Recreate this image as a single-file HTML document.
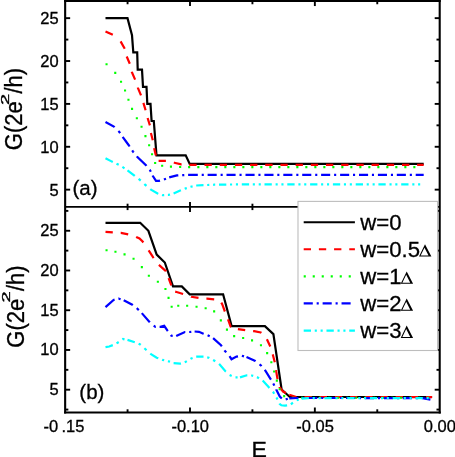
<!DOCTYPE html>
<html><head><meta charset="utf-8"><title>chart</title>
<style>html,body{margin:0;padding:0;background:#fff;}body{width:455px;height:457px;overflow:hidden;}</style>
</head><body>
<svg width="455" height="457" viewBox="0 0 455 457" style="display:block;will-change:transform" font-family="Liberation Sans, sans-serif" fill="#000">
<path d="M105.5,18.1 L127.5,18.1 L132.0,35.3 L133.3,52.4 L137.2,52.4 L137.7,69.6 L142.0,69.6 L143.0,86.8 L146.5,86.8 L147.3,103.9 L150.5,103.9 L151.6,121.0 L153.8,121.0 L156.5,155.3 L185.7,155.3 L189.7,163.9 L423.7,163.9" fill="none" stroke="#000" stroke-width="2.2" stroke-linejoin="miter" stroke-linecap="butt"/>
<path d="M105.5,31.4 L112.8,34.8 M120.6,41.4 L124.6,48.5 L124.7,48.7 M126.7,56.5 L129.8,63.8 M131.8,71.7 L131.9,72.3 L135.1,79.6 M137.8,87.5 L138.0,88.1 L141.0,95.4 M143.4,102.9 L145.6,110.2 L145.6,110.2 M147.6,118.0 L149.9,125.3 L149.9,125.3 M150.9,133.0 L152.8,140.3 M154.2,148.2 L154.2,148.3 L155.8,155.3 L155.8,155.6 M158.6,160.9 L165.9,160.9 M173.8,162.6 L174.3,162.7 L181.2,164.4 L181.6,164.4 M189.3,164.8 L196.6,164.8 M204.5,164.8 L211.8,164.8 M219.7,164.8 L227.0,164.8 M234.9,164.8 L242.2,164.8 M250.1,164.8 L257.4,164.8 M265.2,164.8 L272.6,164.8 M280.4,164.8 L287.7,164.8 M295.6,164.8 L302.9,164.8 M310.8,164.8 L318.1,164.8 M326.0,164.8 L333.3,164.8 M341.2,164.8 L348.5,164.8 M356.4,164.8 L363.7,164.8 M371.6,164.8 L378.9,164.8 M386.8,164.8 L394.1,164.8 M402.0,164.8 L409.3,164.8 M417.1,164.8 L423.7,164.8" fill="none" stroke="#ff0000" stroke-width="2.2" stroke-linejoin="miter" stroke-linecap="butt"/>
<path d="M105.5,64.2h2.1 M114.2,72.9h2.1 M120.0,81.8h2.1 M124.0,90.5h2.1 M127.4,99.7h2.1 M131.0,108.9h2.1 M135.8,118.2h2.1 M140.5,126.8h2.1 M144.4,136.1h2.1 M148.1,145.3h2.1 M151.0,154.2h2.1 M154.1,163.0h2.1 M161.1,165.7h2.1 M169.9,166.6h2.1 M179.1,167.0h2.1 M188.1,167.1h2.1 M197.3,167.1h2.1 M206.3,167.1h2.1 M215.3,167.1h2.1 M224.3,167.1h2.1 M233.3,167.1h2.1 M242.3,167.1h2.1 M251.3,167.1h2.1 M260.3,167.1h2.1 M269.3,167.1h2.1 M278.3,167.1h2.1 M287.3,167.1h2.1 M296.3,167.1h2.1 M305.3,167.1h2.1 M314.3,167.1h2.1 M323.3,167.1h2.1 M332.3,167.1h2.1 M341.3,167.1h2.1 M350.3,167.1h2.1 M359.3,167.1h2.1 M368.3,167.1h2.1 M377.3,167.1h2.1 M386.3,167.1h2.1 M395.3,167.1h2.1 M404.3,167.1h2.1 M413.3,167.1h2.1" fill="none" stroke="#00ff00" stroke-width="2.1"/>
<path d="M105.5,122.0 L114.3,126.8 L114.6,127.1 M118.4,131.0 L119.3,131.9 L120.1,133.1 M122.7,136.9 L123.0,137.4 L128.6,145.0 L129.6,146.5 M132.2,150.4 L133.0,151.6 L133.7,152.5 M136.8,156.3 L137.4,157.1 L146.2,165.5 L146.4,165.8 M149.6,169.7 L150.1,170.3 L150.8,171.8 M152.6,175.6 L152.7,175.8 L156.0,180.9 L158.9,180.9 L160.0,180.6 M163.9,179.5 L166.0,178.7 M169.2,177.4 L176.9,175.4 L178.3,175.3 M182.2,175.2 L182.4,175.2 L184.3,175.1 M188.1,174.8 L188.7,174.8 L197.8,174.8 M201.7,174.8 L203.8,174.8 M207.6,174.8 L216.7,174.8 M220.6,174.8 L222.7,174.8 M226.5,174.8 L235.6,174.8 M239.5,174.8 L241.6,174.8 M245.5,174.8 L254.6,174.8 M258.4,174.8 L260.5,174.8 M264.4,174.8 L273.5,174.8 M277.3,174.8 L279.4,174.8 M283.3,174.8 L292.4,174.8 M296.3,174.8 L298.4,174.8 M302.2,174.8 L311.3,174.8 M315.2,174.8 L317.3,174.8 M321.1,174.8 L330.2,174.8 M334.1,174.8 L336.2,174.8 M340.1,174.8 L349.2,174.8 M353.0,174.8 L355.1,174.8 M359.0,174.8 L368.1,174.8 M371.9,174.8 L374.0,174.8 M377.9,174.8 L387.0,174.8 M390.9,174.8 L393.0,174.8 M396.8,174.8 L405.9,174.8 M409.8,174.8 L411.9,174.8 M415.7,174.8 L423.7,174.8" fill="none" stroke="#0000ff" stroke-width="2.2" stroke-linejoin="miter" stroke-linecap="butt"/>
<path d="M105.5,158.2 L111.0,161.1 L112.8,162.0 M116.5,163.7 L118.7,164.8 M122.4,166.9 L124.5,168.3 M127.5,170.3 L134.7,175.8 L134.8,175.9 M138.6,178.8 L139.6,179.6 L140.7,180.6 M144.4,184.0 L145.0,184.6 L146.5,185.9 M150.3,189.1 L151.0,189.7 L157.6,193.4 L158.3,193.7 M162.1,195.0 L162.6,195.2 L164.2,195.1 M167.9,194.9 L168.6,194.9 L170.0,194.5 M173.6,193.4 L180.2,190.5 L180.9,190.2 M184.7,188.8 L185.7,188.4 L186.8,188.1 M190.5,186.9 L190.8,186.8 L192.6,186.4 M196.2,185.5 L203.5,185.2 M207.2,185.0 L209.3,184.9 M213.1,184.8 L214.3,184.7 L215.2,184.7 M219.0,184.6 L226.3,184.6 M230.0,184.5 L232.1,184.5 M235.9,184.4 L238.0,184.4 M241.8,184.4 L249.1,184.4 M252.8,184.4 L254.9,184.4 M258.7,184.4 L260.8,184.4 M264.5,184.4 L271.8,184.4 M275.6,184.4 L277.7,184.4 M281.4,184.4 L283.5,184.4 M287.3,184.4 L294.6,184.4 M298.4,184.4 L300.5,184.4 M304.2,184.4 L306.3,184.4 M310.1,184.4 L317.4,184.4 M321.1,184.4 L323.2,184.4 M327.0,184.4 L329.1,184.4 M332.9,184.4 L340.2,184.4 M343.9,184.4 L346.0,184.4 M349.8,184.4 L351.9,184.4 M355.7,184.4 L363.0,184.4 M366.7,184.4 L368.8,184.4 M372.6,184.4 L374.7,184.4 M378.4,184.4 L385.7,184.4 M389.5,184.4 L391.6,184.4 M395.3,184.4 L397.4,184.4 M401.2,184.4 L408.5,184.4 M412.3,184.4 L414.4,184.4 M418.1,184.4 L420.2,184.4" fill="none" stroke="#00ffff" stroke-width="2.2" stroke-linejoin="miter" stroke-linecap="butt"/>
<path d="M105.5,222.8 L140.2,222.8 L148.4,230.8 L156.7,254.6 L164.8,262.5 L173.0,286.4 L181.8,286.4 L189.7,294.3 L223.1,294.3 L231.6,326.1 L264.9,326.1 L273.4,334.1 L281.6,389.5 L289.8,397.0 L432.1,397.0" fill="none" stroke="#000" stroke-width="2.2" stroke-linejoin="miter" stroke-linecap="butt"/>
<path d="M105.5,231.9 L112.8,232.4 M120.7,232.8 L120.9,232.8 L128.2,234.3 M136.1,236.9 L136.3,237.0 L139.5,238.4 L142.6,241.5 L143.3,242.5 M148.6,250.4 L148.8,250.7 L153.2,257.3 L153.7,258.0 M158.9,264.9 L165.9,271.1 L166.0,271.4 M168.6,278.1 L171.3,285.4 M175.2,291.7 L175.8,291.8 L183.1,294.0 L183.1,294.0 M191.0,296.7 L191.2,296.8 L198.5,297.8 M206.4,298.6 L206.9,298.6 L214.2,299.3 L214.2,299.3 M221.3,302.6 L222.2,304.2 L224.9,311.5 M228.0,319.4 L228.2,319.9 L230.6,326.7 L231.1,327.1 M237.9,329.2 L245.2,330.1 M253.1,331.1 L254.1,331.2 L260.8,332.5 L261.4,332.9 M266.9,339.2 L270.3,346.5 L270.3,346.5 M272.7,354.4 L272.9,355.0 L274.8,362.3 M276.1,370.2 L276.3,371.9 L277.5,379.1 L277.5,379.2 M279.6,387.1 L279.6,387.2 L283.1,391.6 L285.9,393.0 M289.3,394.8 L296.3,397.0 L296.6,397.0 M304.5,397.0 L311.8,397.0 M319.7,397.0 L327.0,397.0 M334.9,397.1 L342.2,397.1 M350.1,397.1 L357.4,397.1 M365.2,397.1 L372.6,397.1 M380.4,397.1 L387.7,397.1 M395.6,397.1 L402.9,397.2 M410.8,397.2 L418.1,397.2 M426.0,397.2 L432.1,397.2" fill="none" stroke="#ff0000" stroke-width="2.2" stroke-linejoin="miter" stroke-linecap="butt"/>
<path d="M105.5,250.2h2.1 M114.4,251.8h2.1 M123.5,254.4h2.1 M132.5,258.8h2.1 M140.8,267.1h2.1 M147.8,275.7h2.1 M156.8,281.8h2.1 M164.4,289.0h2.1 M167.5,297.9h2.1 M170.6,306.8h2.1 M177.2,305.8h2.1 M186.1,305.8h2.1 M195.5,306.7h2.1 M204.6,308.3h2.1 M213.1,311.4h2.1 M219.8,320.4h2.1 M225.9,329.6h2.1 M233.1,336.1h2.1 M242.1,338.0h2.1 M251.0,340.4h2.1 M259.9,345.3h2.1 M266.1,353.1h2.1 M270.3,362.2h2.1 M273.1,371.5h2.1 M275.8,380.6h2.1 M278.6,389.2h2.1 M283.1,396.1h2.1 M292.1,397.8h2.1 M301.1,397.8h2.1 M310.1,397.8h2.1 M319.1,397.8h2.1 M328.1,397.8h2.1 M337.1,397.8h2.1 M346.1,397.8h2.1 M355.1,397.8h2.1 M364.1,397.8h2.1 M373.1,397.8h2.1 M382.1,397.8h2.1 M391.1,397.8h2.1 M400.1,397.8h2.1 M409.1,397.8h2.1 M418.1,397.8h2.1 M427.1,397.8h2.1" fill="none" stroke="#00ff00" stroke-width="2.1"/>
<path d="M105.5,307.1 L113.6,299.9 L114.6,299.6 M118.5,298.7 L118.7,298.6 L120.6,299.2 M123.7,300.3 L132.3,304.7 L132.8,305.1 M136.7,308.1 L137.4,308.7 L138.8,310.1 M141.8,313.1 L149.5,321.9 L149.8,322.2 M153.7,325.7 L155.4,326.9 L155.8,326.9 M159.6,326.9 L160.4,326.9 L164.2,325.8 L167.5,330.7 L167.8,331.1 M170.8,335.0 L171.4,335.8 L172.7,335.9 M176.2,336.0 L184.9,332.0 L185.3,332.0 M189.2,332.0 L189.3,332.0 L191.3,331.8 M194.6,331.5 L199.0,331.8 L203.4,333.7 L203.7,333.8 M207.6,335.3 L208.7,335.8 L209.7,336.3 M213.1,338.1 L221.0,345.2 L221.8,346.4 M224.5,350.3 L225.0,351.0 L226.2,352.4 M229.5,356.2 L229.8,356.6 L231.5,359.2 L236.5,356.6 L238.0,356.3 M241.9,355.7 L244.0,356.4 M246.5,357.1 L255.3,361.0 L255.6,361.2 M259.5,364.3 L261.0,365.5 L261.5,366.1 M264.7,369.9 L265.2,370.5 L270.8,379.3 L271.0,379.6 M273.2,383.5 L273.8,384.5 L274.3,385.6 M276.2,389.4 L276.2,389.5 L279.8,396.6 L281.8,398.5 M285.7,399.4 L287.8,398.8 M289.3,398.3 L297.2,398.0 L298.4,398.0 M302.3,398.0 L304.4,398.0 M308.2,398.0 L317.3,398.0 M321.2,398.0 L323.3,398.0 M327.1,398.0 L336.2,398.0 M340.1,398.0 L342.2,398.0 M346.1,398.0 L355.2,398.0 M359.0,398.0 L361.1,398.1 M365.0,398.1 L374.1,398.1 M377.9,398.1 L380.0,398.1 M383.9,398.1 L393.0,398.1 M396.9,398.1 L399.0,398.1 M402.8,398.1 L411.9,398.1 M415.8,398.1 L417.9,398.1 M421.7,398.1 L422.5,398.1 L430.4,399.6" fill="none" stroke="#0000ff" stroke-width="2.2" stroke-linejoin="miter" stroke-linecap="butt"/>
<path d="M105.5,347.1 L109.2,346.5 L112.8,345.1 M116.5,343.2 L117.6,342.7 L118.7,342.0 M122.4,339.5 L123.1,339.0 L124.5,339.3 M127.5,339.9 L134.8,342.2 M138.6,343.8 L140.2,344.5 L140.7,344.9 M144.4,348.3 L145.5,349.3 L146.5,350.2 M150.3,353.6 L151.0,354.2 L156.7,357.7 L158.3,358.3 M162.1,359.7 L162.6,359.9 L164.2,360.3 M167.9,361.2 L168.8,361.4 L170.0,361.8 M173.6,363.2 L180.2,363.6 L180.9,363.4 M184.7,362.1 L185.8,361.7 L186.8,361.1 M190.5,358.9 L191.2,358.5 L192.6,358.0 M196.2,356.7 L203.4,356.6 L203.5,356.6 M207.2,357.4 L208.8,357.7 L209.3,358.0 M213.1,360.0 L214.5,360.8 L215.2,361.3 M219.0,364.0 L219.5,364.4 L225.2,371.0 L225.9,371.6 M229.6,375.0 L231.7,376.0 M235.5,377.4 L237.6,377.4 M240.0,377.4 L246.8,375.3 L247.3,375.3 M251.1,375.5 L251.7,375.5 L253.2,375.9 M256.9,377.1 L257.2,377.2 L259.0,378.3 M262.7,380.6 L268.4,386.8 L269.4,387.9 M272.9,391.7 L273.0,391.8 L274.2,393.8 M276.4,397.5 L276.5,397.6 L277.5,399.6 M279.5,403.4 L279.8,404.0 L281.4,405.3 L284.9,405.6 L287.1,405.3 M290.9,404.3 L292.9,402.7 M296.7,400.2 L298.8,399.5 M301.6,398.7 L307.7,398.1 L308.9,398.1 M312.7,398.1 L314.8,398.1 M318.5,398.1 L320.6,398.1 M324.4,398.1 L331.7,398.1 M335.4,398.1 L337.5,398.1 M341.3,398.1 L343.4,398.1 M347.2,398.1 L354.5,398.1 M358.2,398.1 L360.3,398.1 M364.1,398.1 L366.2,398.1 M369.9,398.1 L377.2,398.1 M381.0,398.1 L383.1,398.1 M386.8,398.1 L388.9,398.1 M392.7,398.1 L400.0,398.1 M403.8,398.1 L405.9,398.1 M409.6,398.1 L411.7,398.1 M415.5,398.1 L422.8,398.1 M426.6,398.1 L428.6,398.1" fill="none" stroke="#00ffff" stroke-width="2.2" stroke-linejoin="miter" stroke-linecap="butt"/>
<line x1="65.15" y1="0.00" x2="65.15" y2="413.55" stroke="#000" stroke-width="2.1"/>
<line x1="439.70" y1="0.00" x2="439.70" y2="413.55" stroke="#000" stroke-width="2.1"/>
<line x1="64.10" y1="1.05" x2="440.75" y2="1.05" stroke="#000" stroke-width="2.1"/>
<line x1="65.15" y1="206.90" x2="439.70" y2="206.90" stroke="#000" stroke-width="1.9"/>
<line x1="64.10" y1="412.50" x2="440.75" y2="412.50" stroke="#000" stroke-width="2.1"/>
<line x1="65.15" y1="189.65" x2="70.15" y2="189.65" stroke="#000" stroke-width="1.9"/>
<line x1="434.70" y1="189.65" x2="439.70" y2="189.65" stroke="#000" stroke-width="1.9"/>
<line x1="65.15" y1="389.70" x2="70.15" y2="389.70" stroke="#000" stroke-width="1.9"/>
<line x1="434.70" y1="389.70" x2="439.70" y2="389.70" stroke="#000" stroke-width="1.9"/>
<line x1="65.15" y1="146.78" x2="70.15" y2="146.78" stroke="#000" stroke-width="1.9"/>
<line x1="434.70" y1="146.78" x2="439.70" y2="146.78" stroke="#000" stroke-width="1.9"/>
<line x1="65.15" y1="349.96" x2="70.15" y2="349.96" stroke="#000" stroke-width="1.9"/>
<line x1="434.70" y1="349.96" x2="439.70" y2="349.96" stroke="#000" stroke-width="1.9"/>
<line x1="65.15" y1="103.90" x2="70.15" y2="103.90" stroke="#000" stroke-width="1.9"/>
<line x1="434.70" y1="103.90" x2="439.70" y2="103.90" stroke="#000" stroke-width="1.9"/>
<line x1="65.15" y1="310.23" x2="70.15" y2="310.23" stroke="#000" stroke-width="1.9"/>
<line x1="434.70" y1="310.23" x2="439.70" y2="310.23" stroke="#000" stroke-width="1.9"/>
<line x1="65.15" y1="61.02" x2="70.15" y2="61.02" stroke="#000" stroke-width="1.9"/>
<line x1="434.70" y1="61.02" x2="439.70" y2="61.02" stroke="#000" stroke-width="1.9"/>
<line x1="65.15" y1="270.49" x2="70.15" y2="270.49" stroke="#000" stroke-width="1.9"/>
<line x1="434.70" y1="270.49" x2="439.70" y2="270.49" stroke="#000" stroke-width="1.9"/>
<line x1="65.15" y1="18.15" x2="70.15" y2="18.15" stroke="#000" stroke-width="1.9"/>
<line x1="434.70" y1="18.15" x2="439.70" y2="18.15" stroke="#000" stroke-width="1.9"/>
<line x1="65.15" y1="230.75" x2="70.15" y2="230.75" stroke="#000" stroke-width="1.9"/>
<line x1="434.70" y1="230.75" x2="439.70" y2="230.75" stroke="#000" stroke-width="1.9"/>
<line x1="65.15" y1="168.21" x2="68.35" y2="168.21" stroke="#000" stroke-width="1.9"/>
<line x1="436.50" y1="168.21" x2="439.70" y2="168.21" stroke="#000" stroke-width="1.9"/>
<line x1="65.15" y1="125.34" x2="68.35" y2="125.34" stroke="#000" stroke-width="1.9"/>
<line x1="436.50" y1="125.34" x2="439.70" y2="125.34" stroke="#000" stroke-width="1.9"/>
<line x1="65.15" y1="82.46" x2="68.35" y2="82.46" stroke="#000" stroke-width="1.9"/>
<line x1="436.50" y1="82.46" x2="439.70" y2="82.46" stroke="#000" stroke-width="1.9"/>
<line x1="65.15" y1="39.59" x2="68.35" y2="39.59" stroke="#000" stroke-width="1.9"/>
<line x1="436.50" y1="39.59" x2="439.70" y2="39.59" stroke="#000" stroke-width="1.9"/>
<line x1="65.15" y1="409.57" x2="68.35" y2="409.57" stroke="#000" stroke-width="1.9"/>
<line x1="436.50" y1="409.57" x2="439.70" y2="409.57" stroke="#000" stroke-width="1.9"/>
<line x1="65.15" y1="369.83" x2="68.35" y2="369.83" stroke="#000" stroke-width="1.9"/>
<line x1="436.50" y1="369.83" x2="439.70" y2="369.83" stroke="#000" stroke-width="1.9"/>
<line x1="65.15" y1="330.09" x2="68.35" y2="330.09" stroke="#000" stroke-width="1.9"/>
<line x1="436.50" y1="330.09" x2="439.70" y2="330.09" stroke="#000" stroke-width="1.9"/>
<line x1="65.15" y1="290.36" x2="68.35" y2="290.36" stroke="#000" stroke-width="1.9"/>
<line x1="436.50" y1="290.36" x2="439.70" y2="290.36" stroke="#000" stroke-width="1.9"/>
<line x1="65.15" y1="250.62" x2="68.35" y2="250.62" stroke="#000" stroke-width="1.9"/>
<line x1="436.50" y1="250.62" x2="439.70" y2="250.62" stroke="#000" stroke-width="1.9"/>
<line x1="65.15" y1="210.88" x2="68.35" y2="210.88" stroke="#000" stroke-width="1.9"/>
<line x1="436.50" y1="210.88" x2="439.70" y2="210.88" stroke="#000" stroke-width="1.9"/>
<line x1="190.00" y1="1.05" x2="190.00" y2="6.05" stroke="#000" stroke-width="1.9"/>
<line x1="190.00" y1="201.90" x2="190.00" y2="211.90" stroke="#000" stroke-width="1.9"/>
<line x1="190.00" y1="407.50" x2="190.00" y2="412.50" stroke="#000" stroke-width="1.9"/>
<line x1="314.85" y1="1.05" x2="314.85" y2="6.05" stroke="#000" stroke-width="1.9"/>
<line x1="314.85" y1="201.90" x2="314.85" y2="211.90" stroke="#000" stroke-width="1.9"/>
<line x1="314.85" y1="407.50" x2="314.85" y2="412.50" stroke="#000" stroke-width="1.9"/>
<line x1="127.57" y1="1.05" x2="127.57" y2="4.25" stroke="#000" stroke-width="1.9"/>
<line x1="127.57" y1="203.70" x2="127.57" y2="210.10" stroke="#000" stroke-width="1.9"/>
<line x1="127.57" y1="409.30" x2="127.57" y2="412.50" stroke="#000" stroke-width="1.9"/>
<line x1="252.43" y1="1.05" x2="252.43" y2="4.25" stroke="#000" stroke-width="1.9"/>
<line x1="252.43" y1="203.70" x2="252.43" y2="210.10" stroke="#000" stroke-width="1.9"/>
<line x1="252.43" y1="409.30" x2="252.43" y2="412.50" stroke="#000" stroke-width="1.9"/>
<line x1="377.27" y1="1.05" x2="377.27" y2="4.25" stroke="#000" stroke-width="1.9"/>
<line x1="377.27" y1="203.70" x2="377.27" y2="210.10" stroke="#000" stroke-width="1.9"/>
<line x1="377.27" y1="409.30" x2="377.27" y2="412.50" stroke="#000" stroke-width="1.9"/>
<rect x="298.0" y="201.4" width="139.6" height="149.1" fill="#fff" stroke="#bdbdbd" stroke-width="1.1"/>
<line x1="303.7" y1="222.2" x2="354.9" y2="222.2" stroke="#000" stroke-width="2.1"/>
<line x1="303.7" y1="249.2" x2="354.9" y2="249.2" stroke="#ff0000" stroke-width="2.1" stroke-dasharray="7.3 7.89" stroke-dashoffset="0"/>
<line x1="303.7" y1="276.4" x2="354.9" y2="276.4" stroke="#00ff00" stroke-width="2.3" stroke-dasharray="2.1 6.9" stroke-dashoffset="0"/>
<line x1="303.7" y1="303.4" x2="351.5" y2="303.4" stroke="#0000ff" stroke-width="2.1" stroke-dasharray="9.1 3.86 2.1 3.86" stroke-dashoffset="0"/>
<line x1="303.7" y1="330.6" x2="354.9" y2="330.6" stroke="#00ffff" stroke-width="2.1" stroke-dasharray="7.3 3.75 2.1 3.75 2.1 3.78" stroke-dashoffset="0"/>
<text stroke="#000" stroke-width="0.3" transform="translate(360.30,229.60) scale(0.99,1.0)" font-size="22.4" text-anchor="start" >w=0</text>
<text stroke="#000" stroke-width="0.3" transform="translate(360.30,256.60) scale(0.99,1.0)" font-size="22.4" text-anchor="start" >w=0.5</text>
<path fill-rule="evenodd" d="M419.00,256.60 L425.00,244.20 L431.40,256.60 Z M420.68,255.50 L424.48,247.65 L428.53,255.50 Z"/>
<text stroke="#000" stroke-width="0.3" transform="translate(360.30,283.80) scale(0.99,1.0)" font-size="22.4" text-anchor="start" >w=1</text>
<path fill-rule="evenodd" d="M400.70,283.80 L406.70,271.40 L413.10,283.80 Z M402.38,282.70 L406.18,274.85 L410.23,282.70 Z"/>
<text stroke="#000" stroke-width="0.3" transform="translate(360.30,310.80) scale(0.99,1.0)" font-size="22.4" text-anchor="start" >w=2</text>
<path fill-rule="evenodd" d="M400.70,310.80 L406.70,298.40 L413.10,310.80 Z M402.38,309.70 L406.18,301.85 L410.23,309.70 Z"/>
<text stroke="#000" stroke-width="0.3" transform="translate(360.30,338.00) scale(0.99,1.0)" font-size="22.4" text-anchor="start" >w=3</text>
<path fill-rule="evenodd" d="M400.70,338.00 L406.70,325.60 L413.10,338.00 Z M402.38,336.90 L406.18,329.05 L410.23,336.90 Z"/>
<text stroke="#000" stroke-width="0.3" transform="translate(58.60,195.55) scale(1.058,1.0)" font-size="15.6" text-anchor="end" >5</text>
<text stroke="#000" stroke-width="0.3" transform="translate(58.60,395.10) scale(1.058,1.0)" font-size="15.6" text-anchor="end" >5</text>
<text stroke="#000" stroke-width="0.3" transform="translate(58.60,152.68) scale(1.058,1.0)" font-size="15.6" text-anchor="end" >10</text>
<text stroke="#000" stroke-width="0.3" transform="translate(58.60,355.36) scale(1.058,1.0)" font-size="15.6" text-anchor="end" >10</text>
<text stroke="#000" stroke-width="0.3" transform="translate(58.60,109.80) scale(1.058,1.0)" font-size="15.6" text-anchor="end" >15</text>
<text stroke="#000" stroke-width="0.3" transform="translate(58.60,315.62) scale(1.058,1.0)" font-size="15.6" text-anchor="end" >15</text>
<text stroke="#000" stroke-width="0.3" transform="translate(58.60,66.92) scale(1.058,1.0)" font-size="15.6" text-anchor="end" >20</text>
<text stroke="#000" stroke-width="0.3" transform="translate(58.60,275.89) scale(1.058,1.0)" font-size="15.6" text-anchor="end" >20</text>
<text stroke="#000" stroke-width="0.3" transform="translate(58.60,24.05) scale(1.058,1.0)" font-size="15.6" text-anchor="end" >25</text>
<text stroke="#000" stroke-width="0.3" transform="translate(58.60,236.15) scale(1.058,1.0)" font-size="15.6" text-anchor="end" >25</text>
<text stroke="#000" stroke-width="0.3" transform="translate(190.20,432.20) scale(1.058,1.0)" font-size="15.6" text-anchor="middle" >-0.10</text>
<text stroke="#000" stroke-width="0.3" transform="translate(315.05,432.20) scale(1.058,1.0)" font-size="15.6" text-anchor="middle" >-0.05</text>
<text stroke="#000" stroke-width="0.3" transform="translate(439.90,432.20) scale(1.058,1.0)" font-size="15.6" text-anchor="middle" >0.00</text>
<text stroke="#000" stroke-width="0.3" transform="translate(84.40,432.20) scale(1.058,1.0)" font-size="15.6" text-anchor="end" >.15</text>
<text stroke="#000" stroke-width="0.3" transform="translate(43.60,432.20) scale(1.058,1.0)" font-size="15.6" text-anchor="start" >-0</text>
<text stroke="#000" stroke-width="0.3" transform="translate(72.50,194.80) scale(1.0,1.0)" font-size="20.5" text-anchor="start" >(a)</text>
<text stroke="#000" stroke-width="0.3" transform="translate(79.30,399.30) scale(1.0,1.0)" font-size="20.5" text-anchor="start" >(b)</text>
<text stroke="#000" stroke-width="0.3" transform="translate(22.40,150.20) rotate(-90) scale(1.0,1.05)" font-size="22">G(2e</text>
<text stroke="#000" stroke-width="0.3" transform="translate(9.10,104.90) rotate(-90) scale(1.95,1.05)" font-size="10.3">2</text>
<text stroke="#000" stroke-width="0.3" transform="translate(22.40,93.50) rotate(-90) scale(1.0,1.05)" font-size="22">/h)</text>
<text stroke="#000" stroke-width="0.3" transform="translate(23.70,347.70) rotate(-90) scale(1.0,1.05)" font-size="22">G(2e</text>
<text stroke="#000" stroke-width="0.3" transform="translate(10.40,302.40) rotate(-90) scale(1.95,1.05)" font-size="10.3">2</text>
<text stroke="#000" stroke-width="0.3" transform="translate(23.70,291.00) rotate(-90) scale(1.0,1.05)" font-size="22">/h)</text>
<text stroke="#000" stroke-width="0.3" transform="translate(251.60,457.20) scale(1.05,1.0)" font-size="22" text-anchor="start" >E</text>
</svg>
</body></html>
